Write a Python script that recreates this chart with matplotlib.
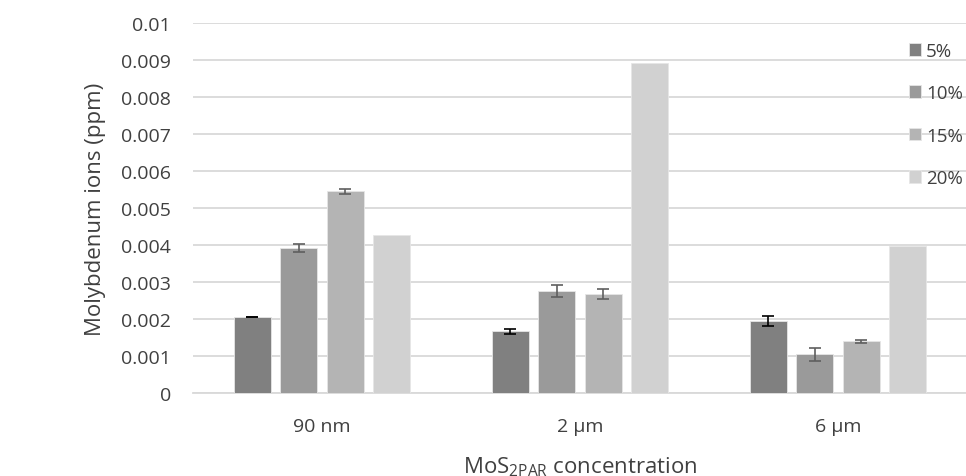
import matplotlib
matplotlib.use("Agg")
import matplotlib.pyplot as plt
import numpy as np

plt.rcParams['font.family'] = ['Open Sans', 'DejaVu Sans']

categories = ["90 nm", "2 µm", "6 µm"]
series = ["5%", "10%", "15%", "20%"]
values = {
    "5%":  [0.00206, 0.00167, 0.00196],
    "10%": [0.00393, 0.00277, 0.00105],
    "15%": [0.00546, 0.00268, 0.00141],
    "20%": [0.00427, 0.00892, 0.00398],
}
errors = {
    "5%":  [0.00001, 0.00008, 0.00013],
    "10%": [0.00010, 0.00016, 0.00018],
    "15%": [0.00007, 0.00013, 0.00004],
    "20%": [0.0, 0.0, 0.0],
}
colors = ["#808080", "#9a9a9a", "#b4b4b4", "#d1d1d1"]
err_colors = ["#000000", "#5f5f5f", "#5f5f5f", "#5f5f5f"]

fig = plt.figure(figsize=(9.66, 4.77), dpi=100)
ax = fig.add_axes([0.1998, 0.1734, 0.8012, 0.7757])

x = np.arange(len(categories))
width = 0.143
step = 0.18
for i, s in enumerate(series):
    off = (i - 1.5) * step
    has_err = any(e > 0 for e in errors[s])
    ax.bar(x + off, values[s], width, color=colors[i], edgecolor="#e6e6e6",
           linewidth=0.6, label=s, zorder=3,
           yerr=errors[s] if has_err else None,
           error_kw=dict(ecolor=err_colors[i], elinewidth=1.2, capsize=4.5,
                         capthick=1.2, zorder=4))

ax.set_xlim(-0.5, 2.5)
ax.set_ylim(0, 0.01)
ax.set_yticks(np.arange(0, 0.0101, 0.001))
ax.set_yticklabels(["0", "0.001", "0.002", "0.003", "0.004", "0.005",
                    "0.006", "0.007", "0.008", "0.009", "0.01"])
ax.set_xticks(x)
ax.set_xticklabels(categories)
ax.tick_params(axis='both', length=0, labelsize=14, colors="#404040")
ax.tick_params(axis='y', pad=16)
ax.tick_params(axis='x', pad=17)
ax.grid(axis='y', color="#d9d9d9", linewidth=1.3, zorder=0)
for sp in ["top", "right", "left"]:
    ax.spines[sp].set_visible(False)
ax.spines["bottom"].set_color("#d9d9d9")
ax.spines["bottom"].set_linewidth(1.3)

ax.set_ylabel("Molybdenum ions (ppm)", fontsize=16, color="#404040", labelpad=11)
ax.set_xlabel("MoS$_{\\mathregular{2PAR}}$ concentration", fontsize=16,
              color="#404040", labelpad=14)

leg = fig.legend(*ax.get_legend_handles_labels(), loc="upper left",
                 bbox_to_anchor=(909 / 966, 1 - 43 / 477), frameon=False,
                 handlelength=0.66, handleheight=0.66, handletextpad=0.25,
                 labelspacing=1.3, fontsize=13.5, borderaxespad=0, borderpad=0)
for t in leg.get_texts():
    t.set_color("#404040")

fig.savefig("out.png", dpi=100)
